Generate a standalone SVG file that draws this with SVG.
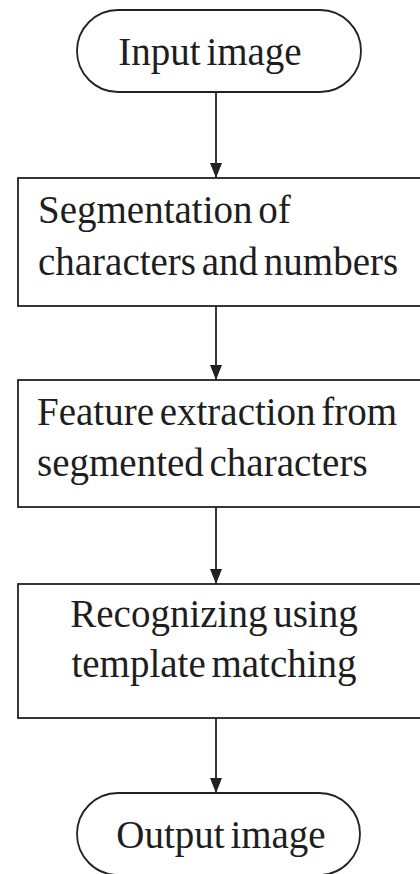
<svg xmlns="http://www.w3.org/2000/svg" width="420" height="874" viewBox="0 0 420 874">
<style>
.shape{fill:#fff;stroke:#222;stroke-width:1.8}
.t{font-family:"Liberation Serif",serif;font-size:39px;fill:#1e1e1e;word-spacing:-4px}
.c{stroke:#222;stroke-width:1.8;fill:none;marker-end:url(#ah)}
</style>
<defs>
<marker id="ah" viewBox="0 0 15 12" refX="15" refY="6" markerWidth="15" markerHeight="12" markerUnits="userSpaceOnUse" orient="auto">
<path d="M0,0 L15,6 L0,12 Z" fill="#222"/>
</marker>
</defs>
<rect width="420" height="874" fill="#fff"/>
<g id="connectors">
<line class="c" x1="216" y1="92" x2="216" y2="178"/>
<line class="c" x1="216" y1="306" x2="216" y2="380"/>
<line class="c" x1="216" y1="507" x2="216" y2="584"/>
<line class="c" x1="216" y1="718" x2="216" y2="793"/>
</g>
<g id="input">
<rect class="shape" x="77" y="10" width="284" height="82" rx="41" ry="41"/>
<text class="t" x="210" y="65" text-anchor="middle">Input image</text>
</g>
<g id="segmentation">
<rect class="shape" x="18" y="178" width="410" height="128"/>
<text class="t" x="38" y="223">Segmentation of</text>
<text class="t" x="38" y="275">characters and numbers</text>
</g>
<g id="feature">
<rect class="shape" x="18" y="380" width="410" height="127"/>
<text class="t" x="37" y="425">Feature extraction from</text>
<text class="t" x="37" y="476">segmented characters</text>
</g>
<g id="recognizing">
<rect class="shape" x="18" y="584" width="410" height="134"/>
<text class="t" x="214" y="627" text-anchor="middle">Recognizing using</text>
<text class="t" x="214" y="677" text-anchor="middle">template matching</text>
</g>
<g id="output">
<rect class="shape" x="77" y="793" width="283" height="82" rx="41" ry="41"/>
<text class="t" x="221" y="848" text-anchor="middle">Output image</text>
</g>
</svg>
